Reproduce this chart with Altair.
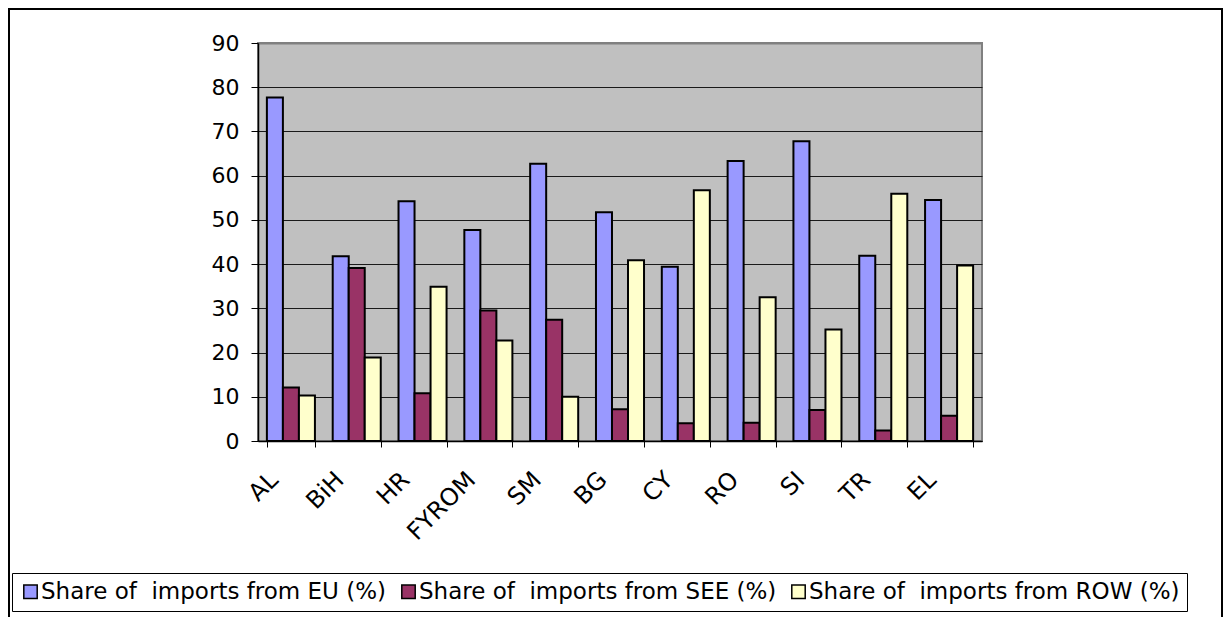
import altair as alt
import pandas as pd

countries = ["AL", "BiH", "HR", "FYROM", "SM", "BG", "CY", "RO", "SI", "TR", "EL"]
eu_share = [77.7, 41.8, 54.2, 47.7, 62.7, 51.7, 39.4, 63.3, 67.8, 41.9, 54.5]
see_share = [12.1, 39.1, 10.8, 29.5, 27.4, 7.2, 4.0, 4.1, 7.0, 2.4, 5.7]
row_share = [10.3, 18.9, 34.9, 22.7, 10.0, 40.9, 56.7, 32.5, 25.2, 55.9, 39.7]
series_names = [
    "Share of\u00a0 imports from EU (%)",
    "Share of\u00a0 imports from SEE (%)",
    "Share of\u00a0 imports from ROW (%)",
]
series_colors = ["#9999FF", "#993366", "#FFFFCC"]
y_ticks = [0, 10, 20, 30, 40, 50, 60, 70, 80, 90]

rows = []
for name, vals in zip(series_names, [eu_share, see_share, row_share]):
    for c, v in zip(countries, vals):
        rows.append({"country": c, "series": name, "value": v})
df = pd.DataFrame(rows)

FONT = "DejaVu Sans"

bars = alt.Chart(df).mark_bar(stroke="black", strokeWidth=2).encode(
    x=alt.X(
        "country:N", sort=countries, title=None,
        scale=alt.Scale(paddingInner=0.27, paddingOuter=0.135),
        axis=alt.Axis(
            labelAngle=-45, labelAlign="right", labelBaseline="middle",
            labelFontSize=24, labelFont=FONT, labelColor="black",
            labelPadding=29, labelOffset=alt.ExprRef(expr="-17"), tickBand="extent",
            tickSize=6, tickColor="black", domainColor="black", domainWidth=1.5,
            grid=False,
        ),
    ),
    xOffset=alt.XOffset("series:N", sort=series_names,
                        scale=alt.Scale(paddingInner=0, paddingOuter=0)),
    y=alt.Y(
        "value:Q", title=None,
        scale=alt.Scale(domain=[0, 90], nice=False),
        axis=alt.Axis(
            values=y_ticks, labelFontSize=22, labelFont=FONT, labelColor="black",
            tickSize=7, labelPadding=12, tickColor="black",
            domainColor="black", domainWidth=1.5, grid=True,
            gridColor={"condition": {"test": "datum.value === 90", "value": "#808080"}, "value": "#1a1a1a"},
            gridWidth={"condition": {"test": "datum.value === 90", "value": 2}, "value": 1},
        ),
    ),
    color=alt.Color(
        "series:N", sort=series_names,
        scale=alt.Scale(domain=series_names, range=series_colors),
        legend=alt.Legend(
            title=None, orient="none", legendX=-246, legendY=530,
            direction="horizontal", labelFontSize=23, labelFont=FONT,
            labelColor="black", labelLimit=1000, symbolType="square",
            symbolSize=180, symbolStrokeColor="black", symbolStrokeWidth=1.5,
            symbolOpacity=1, strokeColor="black", fillColor="white",
            padding=7, columnPadding=10, labelOffset=alt.ExprRef(expr="-1"),
        ),
    ),
)

frame = alt.Chart(alt.Data(values=[{"k": 1}])).mark_rect(
    fill="white", fillOpacity=0, stroke="black", strokeWidth=2
).encode(
    x=alt.value(-249), x2=alt.value(964), y=alt.value(-34), y2=alt.value(575)
)

chart = alt.layer(frame, bars).properties(
    width=724, height=398,
    autosize=alt.AutoSizeParams(type="none"),
    padding={"left": 250, "top": 35, "right": 241, "bottom": 176},
    background="white",
).configure_view(
    fill="#C0C0C0", stroke="#808080", strokeWidth=2
)

chart.save("out.html", embed_options={"renderer": "svg", "actions": False})
